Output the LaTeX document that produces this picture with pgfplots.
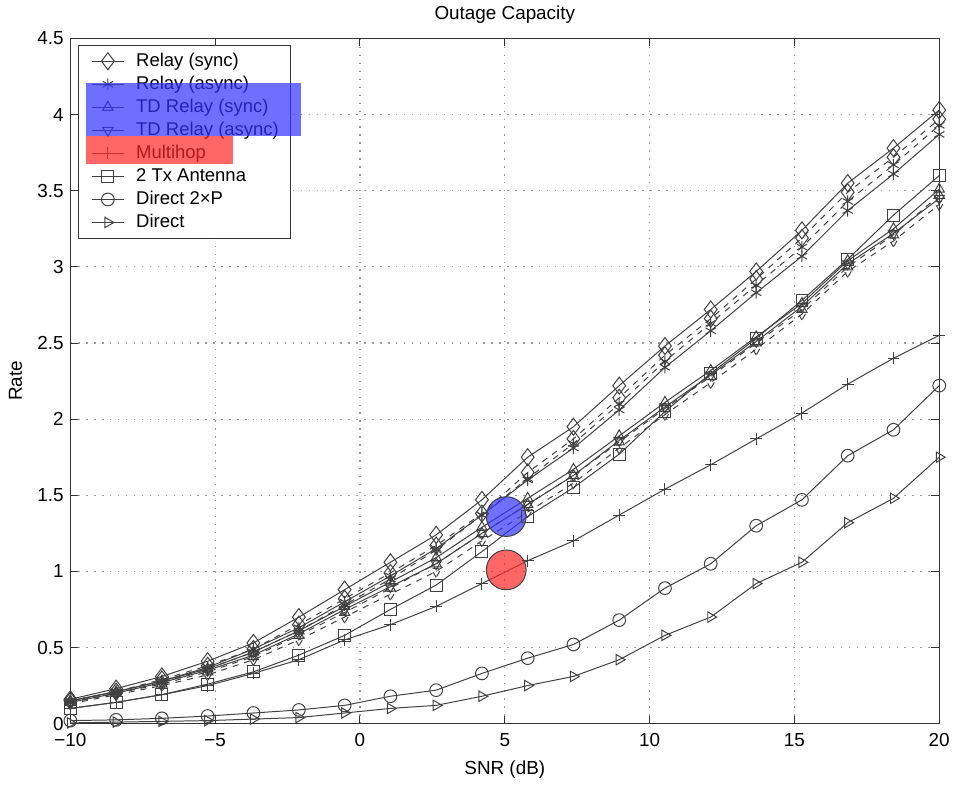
\documentclass[border=0pt]{standalone}
\usepackage{fontspec}
\setmainfont{Liberation Sans}
\usepackage{pgfplots}
\usepackage{pgfplotstable}
\pgfplotsset{compat=1.18}

% columns: relay sync / async, TD relay sync / async (solid + dashed), multihop, 2 Tx, direct 2xP, direct
\pgfplotstableread{
x      rs   rsd  ra   rad  tds  tdsd tda  tdad mh   tx   dtwo  d
-10.00 0.16 0.15 0.15 0.14 0.15 0.14 0.14 0.13 0.10 0.10 0.020 0.005
-8.42  0.23 0.21 0.21 0.20 0.21 0.20 0.20 0.19 0.14 0.14 0.025 0.010
-6.84  0.31 0.29 0.28 0.27 0.28 0.26 0.27 0.25 0.19 0.19 0.035 0.015
-5.26  0.41 0.38 0.37 0.36 0.36 0.34 0.35 0.32 0.25 0.26 0.050 0.020
-3.68  0.53 0.49 0.49 0.47 0.47 0.44 0.45 0.42 0.33 0.34 0.070 0.030
-2.11  0.70 0.65 0.63 0.61 0.61 0.58 0.59 0.55 0.42 0.45 0.090 0.040
-0.53  0.88 0.82 0.80 0.78 0.77 0.73 0.75 0.70 0.55 0.58 0.120 0.070
1.05   1.06 0.99 0.97 0.95 0.93 0.89 0.90 0.85 0.65 0.75 0.180 0.100
2.63   1.24 1.17 1.15 1.14 1.09 1.05 1.05 1.00 0.77 0.91 0.220 0.120
4.21   1.47 1.38 1.37 1.37 1.29 1.25 1.25 1.20 0.92 1.13 0.330 0.180
5.79   1.75 1.65 1.60 1.61 1.48 1.44 1.44 1.39 1.07 1.36 0.430 0.250
7.37   1.95 1.87 1.81 1.84 1.67 1.63 1.63 1.58 1.20 1.55 0.520 0.310
8.95   2.22 2.14 2.06 2.10 1.89 1.85 1.86 1.81 1.37 1.77 0.680 0.420
10.53  2.48 2.42 2.34 2.38 2.11 2.07 2.08 2.03 1.54 2.05 0.890 0.580
12.11  2.72 2.66 2.58 2.63 2.32 2.28 2.29 2.24 1.70 2.30 1.050 0.700
13.68  2.97 2.92 2.83 2.88 2.54 2.50 2.51 2.46 1.87 2.53 1.300 0.920
15.26  3.24 3.19 3.07 3.13 2.76 2.72 2.74 2.69 2.04 2.78 1.470 1.060
16.84  3.55 3.49 3.37 3.43 3.04 3.00 3.02 2.97 2.23 3.05 1.760 1.320
18.42  3.78 3.72 3.61 3.67 3.25 3.21 3.22 3.17 2.40 3.34 1.930 1.480
20.00  4.03 3.97 3.87 3.93 3.51 3.47 3.45 3.41 2.55 3.60 2.220 1.750
}\outage

\begin{document}
\fontsize{9.5}{11}\selectfont
\begin{tikzpicture}
\begin{axis}[
    scale only axis,
    width=437.5pt, height=345pt,
    xmin=-10, xmax=20, ymin=0, ymax=4.5,
    xtick={-10,-5,...,20},
    xticklabels={−10,−5,0,5,10,15,20},
    ytick={0,0.5,...,4.5},
    /pgf/number format/assume math mode=true,
    ticklabel style={font=\fontsize{9.5}{11}\selectfont},
    xticklabel style={yshift=-1.5pt},
    tick align=inside, tick pos=both, major tick length=4pt,
    axis line style={black!80, line width=0.5pt},
    tick style={black!80, line width=0.5pt},
    grid=major,
    grid style={gray!80, line width=0.6pt, dash pattern=on 0.7pt off 3.3pt},
    title={Outage Capacity},
    title style={font=\fontsize{9.5}{11}\selectfont, yshift=-2pt},
    xlabel={SNR (dB)},
    ylabel={Rate},
    label style={font=\fontsize{9.5}{11}\selectfont},
    xlabel style={yshift=-0.5pt},
    ylabel style={at={(axis description cs:-0.048,0.5)}, anchor=south, rotate=0},
    every axis plot/.append style={black!75, line width=0.5pt, mark size=3pt,
        mark options={solid, fill=none}},
    legend style={at={(0.009,0.99)}, anchor=north west, draw=black!80,
        font=\fontsize{9.3}{11}\selectfont, fill=white,
        nodes={inner ysep=1.1pt, text height=7.3pt, text depth=2.1pt},
        inner xsep=4pt, inner ysep=2pt},
    legend cell align=left,
    legend image code/.code={\path (-2.5pt,0pt) (20pt,0pt);
        \draw[mark repeat=2, mark phase=2, #1]
        plot coordinates {(0pt,0pt) (8pt,0pt) (16pt,0pt)};},
]
% highlight spots
\addplot[only marks, mark=*, mark size=10pt, draw=none,
    mark options={draw=none, fill=blue!80, fill opacity=0.7}, forget plot]
    coordinates {(5.05,1.36)};
\addplot[only marks, mark=*, mark size=10pt, draw=none,
    mark options={draw=none, fill=red!85, fill opacity=0.7}, forget plot]
    coordinates {(5.05,1.01)};

% dashed companions
\addplot[dashed, mark=diamond, mark size=4.3pt, forget plot] table[x=x, y=rsd] {\outage};
\addplot[dashed, mark=asterisk, forget plot] table[x=x, y=rad] {\outage};
\addplot[dashed, mark=triangle, forget plot] table[x=x, y=tdsd] {\outage};
\addplot[dashed, mark=triangle, mark options={rotate=180}, forget plot] table[x=x, y=tdad] {\outage};

\addplot[mark=diamond, mark size=4.3pt] table[x=x, y=rs] {\outage};
\addlegendentry{Relay (sync)}
\addplot[mark=asterisk] table[x=x, y=ra] {\outage};
\addlegendentry{Relay (async)}
\addplot[mark=triangle] table[x=x, y=tds] {\outage};
\addlegendentry{TD Relay (sync)}
\addplot[mark=triangle, mark options={rotate=180}] table[x=x, y=tda] {\outage};
\addlegendentry{TD Relay (async)}
\addplot[mark=+] table[x=x, y=mh] {\outage};
\addlegendentry{Multihop}
\addplot[mark=square] table[x=x, y=tx] {\outage};
\addlegendentry{2 Tx Antenna}
\addplot[mark=o, mark size=3.2pt] table[x=x, y=dtwo] {\outage};
\addlegendentry{Direct 2×P}
\addplot[mark=triangle, mark options={rotate=-90}] table[x=x, y=d] {\outage};
\addlegendentry{Direct}

\coordinate (bA) at (axis description cs:0.018,0.857);
\coordinate (bB) at (axis description cs:0.265,0.935);
\coordinate (rA) at (axis description cs:0.018,0.817);
\coordinate (rB) at (axis description cs:0.187,0.857);
\coordinate (lm) at (axis description cs:-0.081,0.5);
\end{axis}
\fill[blue!80, fill opacity=0.7] (bA) rectangle (bB);
\fill[red!85, fill opacity=0.7] (rA) rectangle (rB);
\path (lm) rectangle ++(0.1pt,0.1pt);
\end{tikzpicture}
\end{document}
